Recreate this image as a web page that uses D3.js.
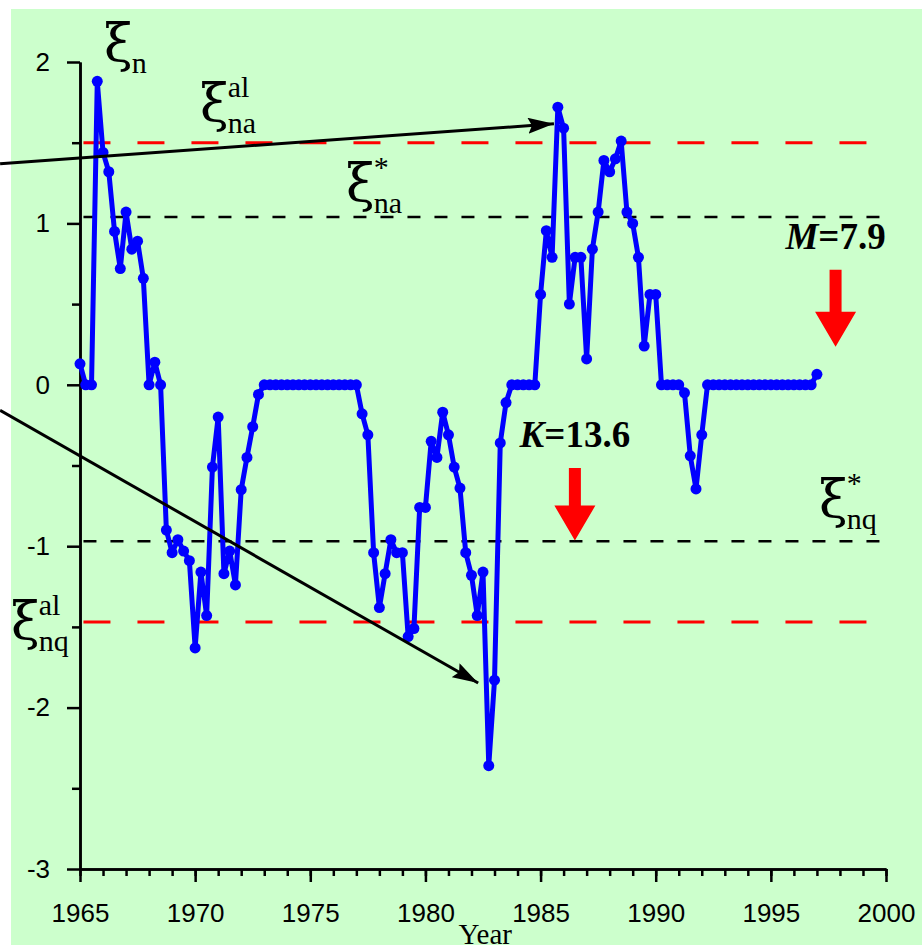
<!DOCTYPE html>
<html>
<head>
<meta charset="utf-8">
<script src="https://cdn.jsdelivr.net/npm/d3@7"></script>
<style>
  html, body { margin: 0; padding: 0; background: #ffffff; }
  svg { display: block; }
</style>
</head>
<body>
<svg id="chart" width="922" height="951"></svg>
<script>
// Quarterly index ξn, 1965.00 – 1997.00
const startYear = 1965;
const stepYears = 0.25;
const xiValues = [
  0.13, 0, 0, 1.88, 1.44, 1.32, 0.95, 0.72, 1.07, 0.84, 0.89, 0.66,     // 1965–1967
  0, 0.14, 0, -0.90, -1.04, -0.96, -1.03, -1.09,                          // 1968–1969
  -1.63, -1.16, -1.43, -0.51, -0.20, -1.17, -1.03, -1.24,                 // 1970–1971
  -0.65, -0.45, -0.26, -0.06,                                             // 1972
  0, 0, 0, 0, 0, 0, 0, 0, 0, 0, 0, 0, 0, 0, 0, 0, 0,                      // 1973.00–1977.00
  -0.18, -0.31, -1.04, -1.38, -1.17, -0.96, -1.04, -1.04,                 // 1977.25–1979.00
  -1.56, -1.51, -0.76, -0.76, -0.35, -0.45, -0.17, -0.31,                 // 1979.25–1981.00
  -0.51, -0.64, -1.04, -1.18, -1.43, -1.16, -2.36, -1.83,                 // 1981.25–1983.00
  -0.36, -0.11, 0, 0, 0, 0, 0,                                            // 1983.25–1984.75
  0.56, 0.955, 0.79, 1.72, 1.59, 0.50, 0.79, 0.79,                        // 1985–1986
  0.16, 0.84, 1.07, 1.39, 1.32, 1.40, 1.51, 1.07,                         // 1987–1988
  1.00, 0.79, 0.24, 0.56, 0.56,                                           // 1989–1990.00
  0, 0, 0, 0, -0.05, -0.44, -0.645, -0.31,                                // 1990.25–1992.00
  0, 0, 0, 0, 0, 0, 0, 0, 0, 0, 0, 0, 0, 0, 0, 0, 0, 0, 0,                // 1992.25–1996.75
  0.065                                                                   // 1997.00
];

// Threshold levels
const xiNaAl = 1.5;
const xiNaStar = 1.04;
const xiNqStar = -0.97;
const xiNqAl = -1.47;

// Axis ticks
const xMajorTicks = [1965, 1970, 1975, 1980, 1985, 1990, 1995, 2000];
const xMinorTicks = d3.range(1965, 2001, 1);
const yMajorTicks = [-3, -2, -1, 0, 1, 2];
const yMinorTicks = [-2.5, -1.5, -0.5, 0.5, 1.5];

// Annotation arrows (year, value)
const pointerArrows = [
  { from: [1961.53, 1.369], to: [1985.58, 1.617] },
  { from: [1961.53, -0.158], to: [1982.29, -1.848] }
];
const redArrows = [
  { year: 1997.81, top: 0.713, tip: 0.235, label: "M", value: "7.9" },
  { year: 1986.49, top: -0.515, tip: -0.965, label: "K", value: "13.6" }
];

const series = xiValues.map((v, i) => ({ year: startYear + i * stepYears, value: v }));

const svg = d3.select("#chart");
const x = d3.scaleLinear().domain([1965, 2000]).range([80, 886]);
const y = d3.scaleLinear().domain([-3, 2]).range([869, 62]);

// Plot background
svg.append("rect")
  .attr("x", 11).attr("y", 9)
  .attr("width", 911).attr("height", 936)
  .attr("fill", "#ccffcc");

const defs = svg.append("defs");
defs.append("marker")
  .attr("id", "blackHead")
  .attr("viewBox", "0 0 26 16")
  .attr("refX", 26).attr("refY", 8)
  .attr("markerUnits", "userSpaceOnUse")
  .attr("markerWidth", 26).attr("markerHeight", 16)
  .attr("orient", "auto")
  .append("path")
  .attr("d", "M0,0 L26,8 L0,16 L4,8 Z")
  .attr("fill", "#000");

// Threshold lines
const lineX0 = x(1965.15), lineX1 = x(1999.75);
const thresholds = [
  { v: xiNaAl, color: "#ff0000", dash: "27,27", w: 3 },
  { v: xiNqAl, color: "#ff0000", dash: "27,27", w: 3 },
  { v: xiNaStar, color: "#000000", dash: "13,14", w: 2.5 },
  { v: xiNqStar, color: "#000000", dash: "13,14", w: 2.5 }
];
svg.append("g").selectAll("line").data(thresholds).join("line")
  .attr("x1", lineX0).attr("x2", lineX1)
  .attr("y1", d => y(d.v)).attr("y2", d => y(d.v))
  .attr("stroke", d => d.color)
  .attr("stroke-width", d => d.w)
  .attr("stroke-dasharray", d => d.dash);

// Axes
const axisFont = "'Liberation Sans', Arial, sans-serif";
svg.append("g").attr("transform", `translate(0,${y(-3)})`)
  .call(d3.axisBottom(x).tickValues(xMinorTicks).tickSize(7).tickSizeOuter(0).tickFormat(""));
svg.append("g").attr("transform", `translate(0,${y(-3)})`)
  .call(d3.axisBottom(x).tickValues(xMajorTicks).tickSize(13).tickSizeOuter(0)
    .tickFormat(d3.format("d")).tickPadding(22));
svg.append("g").attr("transform", `translate(${x(1965)},0)`)
  .call(d3.axisLeft(y).tickValues(yMinorTicks).tickSize(8).tickSizeOuter(0).tickFormat(""));
svg.append("g").attr("transform", `translate(${x(1965)},0)`)
  .call(d3.axisLeft(y).tickValues(yMajorTicks).tickSize(13).tickSizeOuter(0)
    .tickFormat(d => String(d)).tickPadding(17));

svg.selectAll(".domain, .tick line")
  .attr("stroke", "#000").attr("stroke-width", 2.5);
svg.selectAll(".tick text")
  .attr("fill", "#000")
  .style("font-family", axisFont)
  .style("font-size", "26px");

svg.append("text")
  .attr("x", x(1982.6)).attr("y", 944)
  .attr("text-anchor", "middle")
  .style("font-family", "'Liberation Serif', 'Times New Roman', serif")
  .style("font-size", "29px")
  .text("Year");

// Data line and markers
const blue = "#0000ff";
svg.append("path")
  .datum(series)
  .attr("fill", "none")
  .attr("stroke", blue)
  .attr("stroke-width", 5)
  .attr("stroke-linejoin", "round")
  .attr("d", d3.line().x(d => x(d.year)).y(d => y(d.value)));
svg.append("g").selectAll("circle").data(series).join("circle")
  .attr("cx", d => x(d.year)).attr("cy", d => y(d.value))
  .attr("r", 5.5).attr("fill", blue);

// Pointer arrows
svg.append("g").selectAll("line").data(pointerArrows).join("line")
  .attr("x1", d => x(d.from[0])).attr("y1", d => y(d.from[1]))
  .attr("x2", d => x(d.to[0])).attr("y2", d => y(d.to[1]))
  .attr("stroke", "#000").attr("stroke-width", 3)
  .attr("marker-end", "url(#blackHead)");

// Red arrows with labels
const serif = "'Liberation Serif', 'Times New Roman', serif";
redArrows.forEach(a => {
  const cx = x(a.year), yTop = y(a.top), yTip = y(a.tip);
  const headLen = 35, headHalf = 20.5, shaftHalf = 6;
  svg.append("path")
    .attr("d", `M${cx - shaftHalf},${yTop} L${cx + shaftHalf},${yTop} L${cx + shaftHalf},${yTip - headLen} ` +
      `L${cx + headHalf},${yTip - headLen} L${cx},${yTip} L${cx - headHalf},${yTip - headLen} ` +
      `L${cx - shaftHalf},${yTip - headLen} Z`)
    .attr("fill", "#ff0000");
  const t = svg.append("text")
    .attr("x", cx).attr("y", yTop - 21)
    .attr("text-anchor", "middle")
    .style("font-family", serif)
    .style("font-size", "37px")
    .style("font-weight", "bold");
  t.append("tspan").style("font-style", "italic").text(a.label);
  t.append("tspan").text("=" + a.value);
});

// Greek-letter labels for the index and thresholds
function xiLabel(px, baseline, sup, sub) {
  const g = svg.append("g").attr("fill", "#000");
  const xi = g.append("text")
    .attr("x", px).attr("y", baseline - 12)
    .style("font-family", "'DejaVu Serif', serif")
    .style("font-size", "52px")
    .text("ξ");
  const right = px + xi.node().getComputedTextLength() - 1;
  if (sup) {
    g.append("text").attr("x", right).attr("y", baseline - 36)
      .style("font-family", serif).style("font-size", "30px").text(sup);
  }
  g.append("text").attr("x", right).attr("y", baseline)
    .style("font-family", serif).style("font-size", "30px").text(sub);
}
xiLabel(104, 73, null, "n");
xiLabel(200, 133, "al", "na");
xiLabel(346, 213, "*", "na");
xiLabel(819, 529, "*", "nq");
xiLabel(11, 651, "al", "nq");
</script>
</body>
</html>
